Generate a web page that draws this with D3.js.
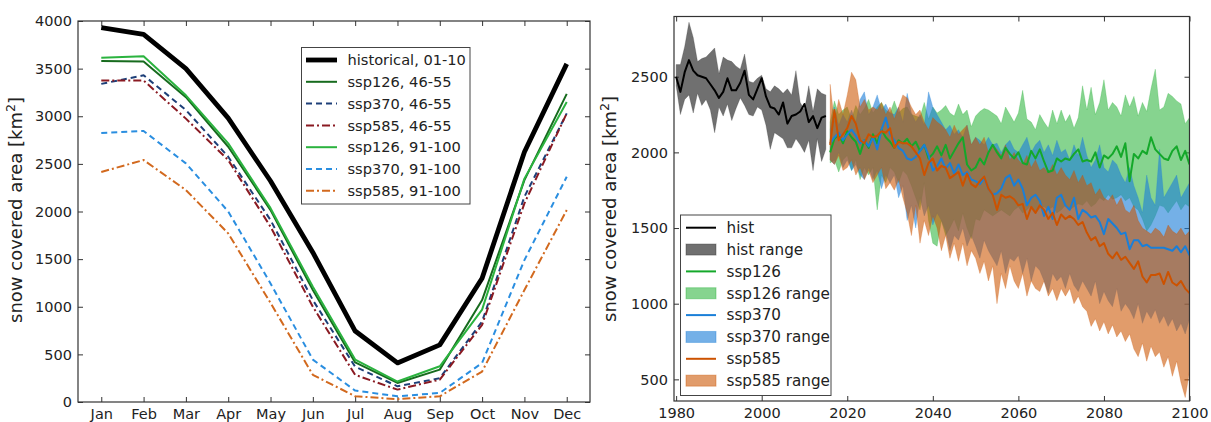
<!DOCTYPE html>
<html><head><meta charset="utf-8">
<script src="https://cdn.jsdelivr.net/npm/d3@7"></script>
<style>
body{margin:0;background:#fff}
text{font-family:"DejaVu Sans",sans-serif;fill:#222}
</style>
</head><body>
<svg id="c" width="1211" height="422"></svg>
<script>
// ---------- left panel data ----------
const months = ["Jan","Feb","Mar","Apr","May","Jun","Jul","Aug","Sep","Oct","Nov","Dec"];
const leftTicks = [0,500,1000,1500,2000,2500,3000,3500,4000];
const histClim   = [3930,3860,3500,2980,2320,1570,745,410,600,1300,2625,3550];
const s126_4655  = [3580,3575,3200,2680,2015,1175,415,200,340,1070,2330,3235];
const s370_4655  = [3340,3430,3065,2575,1910,1070,370,165,250,845,2155,3030];
const s585_4655  = [3375,3375,2975,2540,1840,1000,285,130,235,810,2085,3030];
const s126_91100 = [3615,3630,3220,2715,2035,1210,445,215,375,970,2345,3150];
const s370_91100 = [2825,2845,2505,2000,1245,445,120,60,95,410,1490,2365];
const s585_91100 = [2415,2540,2225,1770,1040,285,60,30,60,320,1175,2015];
const leftNames = ["historical, 01-10","ssp126, 46-55","ssp370, 46-55","ssp585, 46-55","ssp126, 91-100","ssp370, 91-100","ssp585, 91-100"];

// ---------- right panel data ----------
const rightXTicks = [1980,2000,2020,2040,2060,2080,2100];
const rightYTicks = [500,1000,1500,2000,2500];
const histYears = d3.range(1980, 2016);
const histMean = [2500,2400,2530,2610,2540,2510,2500,2490,2450,2410,2360,2400,2490,2410,2410,2460,2540,2380,2350,2420,2490,2370,2300,2290,2250,2330,2190,2240,2250,2270,2320,2200,2240,2160,2230,2240];
const histMax  = [2580,2580,2700,2860,2760,2600,2620,2630,2660,2690,2520,2630,2610,2600,2570,2550,2650,2470,2460,2490,2510,2420,2400,2440,2420,2390,2420,2380,2540,2330,2280,2440,2270,2420,2390,2380];
const histMin  = [2440,2250,2350,2380,2260,2390,2310,2350,2280,2130,2300,2240,2320,2210,2290,2360,2310,2250,2240,2300,2280,2180,2020,2130,2110,2090,2030,2030,2090,2050,2000,2080,1880,2090,1940,2020];
const sspYears = d3.range(2016, 2101);
const ssp126Mean = [2000,2090,2120,2060,2140, 2100,2070,1990,2080,2030, 2120,2060,2150,2100,2070, 2030,2080,2060,2090,2040,
  2070,2010,2050,1960,1990, 2040,1980,2050,1960,2010, 2060,2100,1920,1880,1900, 1960,1920,2000,2050,2000,
  1960,2030,1990,1960,2000, 1930,1920,2010,1960,2020, 1940,1870,1880,1960,1940, 1960,1950,1990,2020,1940,
  1950,1940,2000,1900,1980, 1960,1990,2040,1970,2060, 1810,1990,1960,2010,1990, 2100,2020,1990,1960,1950,
  2010,2040,1950,2010,1920];
const ssp126Max = [2200,2340,2250,2280,2300, 2220,2310,2250,2290,2350, 2260,2300,2330,2280,2260, 2340,2260,2290,2300,2250,
  2240,2230,2330,2220,2300, 2260,2280,2310,2260,2240, 2320,2250,2280,2170,2240, 2270,2290,2280,2260,2240,
  2190,2300,2250,2200,2260, 2410,2220,2200,2150,2250, 2200,2160,2280,2190,2280, 2200,2250,2160,2230,2440,
  2280,2430,2250,2330,2480, 2280,2330,2300,2240,2380, 2300,2370,2240,2330,2270, 2420,2550,2280,2300,2390,
  2370,2340,2320,2190,2230];
const ssp126Min = [1930,1950,1870,1950,1980, 1880,1950,1820,1900,1850, 1900,1620,1850,1800,1900, 1870,1800,1880,1850,1780,
  1700,1620,1800,1550,1400, 1380,1550,1450,1500,1560, 1480,1600,1500,1430,1560, 1550,1620,1600,1580,1600,
  1620,1600,1580,1620,1640, 1600,1620,1650,1600,1630, 1640,1620,1640,1600,1620, 1650,1620,1640,1660,1650,
  1680,1640,1660,1700,1680, 1720,1690,1700,1720,1680, 1700,1640,1620,1560,1480, 1520,1580,1650,1640,1600,
  1640,1680,1620,1660,1640];
const ssp370Mean = [2060,2100,2130,2080,2120, 2150,2110,2060,2080,2040, 2100,2020,2150,2230,2120, 2080,2030,2010,1960,1950,
  1970,2010,2050,1980,1880, 1910,1960,1890,1930,1860, 1920,1850,1870,1820,1810, 1790,1830,1760,1720,1730,
  1760,1830,1850,1780,1820, 1760,1650,1700,1720,1680, 1580,1640,1560,1700,1720, 1650,1620,1700,1560,1620,
  1600,1570,1580,1540,1460, 1560,1530,1500,1460,1470, 1360,1420,1420,1380,1390, 1370,1370,1370,1370,1360,
  1350,1380,1340,1380,1320];
const ssp370Max = [2150,2300,2180,2250,2200, 2280,2200,2350,2400,2250, 2300,2380,2280,2320,2260, 2250,2300,2200,2390,2260,
  2200,2250,2180,2400,2300, 2250,2200,2150,2180,2120, 2150,2100,2180,2050,2100, 2080,2050,2100,2050,2060,
  2000,2050,2080,2020,2000, 2050,2100,2000,2050,2080, 2000,2050,1980,2080,2000, 2020,1950,2050,1980,2100,
  1980,1900,1950,2050,1900, 1870,1950,1920,1850,1800, 1900,1780,1700,1600,1850, 1700,1650,2020,1700,1750,
  1800,1850,1700,1750,1800];
const ssp370Min = [1950,1920,2000,1900,1950, 1880,1920,1850,1820,1900, 1820,1880,1760,1850,1800, 1850,1700,1780,1550,1650,
  1500,1700,1580,1650,1520, 1600,1550,1480,1350,1450, 1420,1500,1380,1450,1380, 1300,1420,1350,1300,1250,
  1350,1200,1300,1280,1320, 1200,1300,1150,1250,1220, 1150,1070,1200,1150,1180, 1100,1200,1120,1080,1150,
  1100,1050,1150,1000,1080, 1020,980,1100,950,1000, 960,900,1000,870,950, 900,960,870,920,850,
  900,820,870,800,900];
const ssp585Mean = [2050,2280,2080,2120,2160, 2240,2190,2080,2060,2120, 2100,2110,2140,2130,2160, 2030,2070,2060,2060,2040,
  2000,1960,1850,1930,1960, 1880,1910,1900,1830,1850, 1870,1780,1860,1790,1770, 1810,1840,1760,1720,1620,
  1720,1700,1710,1690,1650, 1660,1560,1640,1600,1650, 1620,1560,1600,1520,1590, 1560,1580,1560,1520,1540,
  1470,1420,1440,1380,1400, 1330,1300,1340,1290,1310, 1270,1230,1280,1180,1140, 1190,1190,1200,1130,1210,
  1140,1120,1150,1100,1070];
const ssp585Max = [2450,2200,2350,2250,2380, 2530,2480,2300,2350,2280, 2300,2280,2330,2250,2300, 2220,2300,2380,2360,2300,
  2250,2280,2200,2150,2230, 2200,2180,2150,2100,2180, 2120,2150,2180,2050,2100, 2050,2100,2000,2050,2020,
  1980,2050,1950,2000,1950, 1920,1980,1900,1950,1880, 1900,1860,1920,1850,1900, 1850,1820,1880,1800,1850,
  1780,1800,1720,1760,1700, 1680,1720,1650,1700,1620, 1600,1650,1550,1500,1480, 1460,1500,1480,1440,1520,
  1480,1460,1500,1450,1480];
const ssp585Min = [1950,1920,1980,1880,1900, 1950,1850,1900,1820,1880, 1800,1850,1900,1760,1800, 1750,1820,1700,1600,1450,
  1650,1400,1550,1450,1580, 1500,1350,1450,1300,1400, 1280,1400,1250,1350,1300, 1200,1280,1150,1250,1000,
  1200,1100,1250,1150,1100, 1200,1050,1150,1100,1080, 1150,1050,1100,1020,1100, 1050,1100,1000,1050,980,
  950,850,900,820,880, 800,860,780,820,750, 800,700,650,740,620, 720,650,680,580,650,
  520,620,480,380,550];
const rightNames = ["hist","hist range","ssp126","ssp126 range","ssp370","ssp370 range","ssp585","ssp585 range"];

const svg = d3.select("#c");
const axisCol = "#333";

function yLabel(x, y) {
  const t = svg.append("text").attr("transform", `translate(${x},${y}) rotate(-90)`)
    .attr("text-anchor", "middle").attr("font-size", 18).attr("fill", "#222");
  t.append("tspan").text("snow covered area [km");
  t.append("tspan").attr("font-size", 12.5).attr("dy", -7).text("2");
  t.append("tspan").attr("dy", 7).text("]");
}
function styleAxis(g) {
  g.select(".domain").remove();
  g.selectAll(".tick line").attr("stroke", axisCol).attr("stroke-width", 1);
  g.selectAll(".tick text").attr("font-size", 14.5).attr("fill", "#222");
}

// ---------- LEFT PANEL ----------
const L = {x0: 78, x1: 590, y0: 21, y1: 402};
const xL = d3.scalePoint().domain(months).range([L.x0, L.x1]).padding(0.55);
const yL = d3.scaleLinear().domain([0, 4000]).range([L.y1, L.y0]);

svg.append("g").attr("transform", `translate(${L.x0},0)`)
  .call(d3.axisLeft(yL).tickValues(leftTicks).tickSize(-5).tickPadding(6).tickFormat(d3.format("d"))).call(styleAxis);
svg.append("g").attr("transform", `translate(${L.x1},0)`)
  .call(d3.axisRight(yL).tickValues(leftTicks).tickSize(-5).tickFormat("")).call(styleAxis);
svg.append("g").attr("transform", `translate(0,${L.y1})`)
  .call(d3.axisBottom(xL).tickSize(-5).tickPadding(7)).call(styleAxis);
svg.append("g").attr("transform", `translate(0,${L.y0})`)
  .call(d3.axisTop(xL).tickSize(-5).tickFormat("")).call(styleAxis);

const leftSeries = [
  {name: leftNames[0], v: histClim,   c: "#000000", w: 4.8, d: null},
  {name: leftNames[1], v: s126_4655,  c: "#176b1e", w: 2,   d: null},
  {name: leftNames[2], v: s370_4655,  c: "#1d3f78", w: 2,   d: "6,4"},
  {name: leftNames[3], v: s585_4655,  c: "#8a1a22", w: 2,   d: "8,3,2,3"},
  {name: leftNames[4], v: s126_91100, c: "#2bb33f", w: 2,   d: null},
  {name: leftNames[5], v: s370_91100, c: "#2a8ee0", w: 2,   d: "6,4"},
  {name: leftNames[6], v: s585_91100, c: "#d2691e", w: 2,   d: "8,3,2,3"}
];
const lineL = d3.line().x((d, i) => xL(months[i])).y(d => yL(d));
leftSeries.forEach(s => {
  svg.append("path").attr("d", lineL(s.v)).attr("fill", "none").attr("stroke", s.c)
    .attr("stroke-width", s.w).attr("stroke-dasharray", s.d).attr("stroke-linejoin", "round");
});
svg.append("rect").attr("x", L.x0).attr("y", L.y0).attr("width", L.x1 - L.x0).attr("height", L.y1 - L.y0)
  .attr("fill", "none").attr("stroke", axisCol).attr("stroke-width", 1.2);
yLabel(22, 210);

// left legend
const lgL = svg.append("g");
lgL.append("rect").attr("x", 301.5).attr("y", 47.5).attr("width", 168.5).attr("height", 156.5)
  .attr("fill", "#fff").attr("stroke", "#444").attr("stroke-width", 1);
leftSeries.forEach((s, i) => {
  const y = 60 + i * 21.8;
  lgL.append("line").attr("x1", 306).attr("x2", 337).attr("y1", y).attr("y2", y)
    .attr("stroke", s.c).attr("stroke-width", s.w).attr("stroke-dasharray", s.d);
  lgL.append("text").attr("x", 347.5).attr("y", y).attr("dy", "0.35em").attr("font-size", 14.6).text(s.name);
});

// ---------- RIGHT PANEL ----------
const R = {x0: 674, x1: 1189.5, y0: 16.5, y1: 401};
const xR = d3.scaleLinear().domain([1979.5, 2100]).range([R.x0, R.x1]);
const yR = d3.scaleLinear().domain([357, 2898]).range([R.y1, R.y0]);

svg.append("g").attr("transform", `translate(${R.x0},0)`)
  .call(d3.axisLeft(yR).tickValues(rightYTicks).tickSize(-5).tickPadding(6).tickFormat(d3.format("d"))).call(styleAxis);
svg.append("g").attr("transform", `translate(${R.x1},0)`)
  .call(d3.axisRight(yR).tickValues(rightYTicks).tickSize(-5).tickFormat("")).call(styleAxis);
svg.append("g").attr("transform", `translate(0,${R.y1})`)
  .call(d3.axisBottom(xR).tickValues(rightXTicks).tickSize(-5).tickPadding(7).tickFormat(d3.format("d"))).call(styleAxis);
svg.append("g").attr("transform", `translate(0,${R.y0})`)
  .call(d3.axisTop(xR).tickValues(rightXTicks).tickSize(-5).tickFormat("")).call(styleAxis);

svg.append("clipPath").attr("id", "clipR").append("rect")
  .attr("x", R.x0).attr("y", R.y0).attr("width", R.x1 - R.x0).attr("height", R.y1 - R.y0);
const plotR = svg.append("g").attr("clip-path", "url(#clipR)");

const rightSeries = [
  {years: histYears, mean: histMean,   lo: histMin,   hi: histMax,   lc: "#000000", fc: "#333333", fo: 0.7},
  {years: sspYears,  mean: ssp126Mean, lo: ssp126Min, hi: ssp126Max, lc: "#14a82a", fc: "#22b033", fo: 0.55},
  {years: sspYears,  mean: ssp370Mean, lo: ssp370Min, hi: ssp370Max, lc: "#1a7fd8", fc: "#1f80d8", fo: 0.62},
  {years: sspYears,  mean: ssp585Mean, lo: ssp585Min, hi: ssp585Max, lc: "#cc5200", fc: "#cc5500", fo: 0.58}
];
rightSeries.forEach(s => {
  const area = d3.area().x((d, i) => xR(s.years[i])).y0((d, i) => yR(s.lo[i])).y1(d => yR(d));
  plotR.append("path").attr("d", area(s.hi)).attr("fill", s.fc).attr("fill-opacity", s.fo)
    .attr("stroke", s.fc).attr("stroke-opacity", 0.3).attr("stroke-width", 0.8);
});
rightSeries.forEach(s => {
  const line = d3.line().x((d, i) => xR(s.years[i])).y(d => yR(d));
  plotR.append("path").attr("d", line(s.mean)).attr("fill", "none").attr("stroke", s.lc)
    .attr("stroke-width", 2).attr("stroke-linejoin", "round");
});
svg.append("rect").attr("x", R.x0).attr("y", R.y0).attr("width", R.x1 - R.x0).attr("height", R.y1 - R.y0)
  .attr("fill", "none").attr("stroke", axisCol).attr("stroke-width", 1.2);
yLabel(616, 209);

// right legend
const lgR = svg.append("g");
lgR.append("rect").attr("x", 680.5).attr("y", 215).attr("width", 150.5).attr("height", 180.5)
  .attr("fill", "#fff").attr("fill-opacity", 0.85).attr("stroke", "#444").attr("stroke-width", 1);
rightNames.forEach((n, i) => {
  const y = 227.7 + i * 21.85;
  const s = rightSeries[Math.floor(i / 2)];
  if (i % 2 === 0) {
    lgR.append("line").attr("x1", 686).attr("x2", 716).attr("y1", y).attr("y2", y)
      .attr("stroke", s.lc).attr("stroke-width", 2);
  } else {
    lgR.append("rect").attr("x", 686).attr("y", y - 5.5).attr("width", 30).attr("height", 11)
      .attr("fill", s.fc).attr("fill-opacity", s.fo).attr("stroke", s.fc).attr("stroke-opacity", 0.4);
  }
  lgR.append("text").attr("x", 726.5).attr("y", y).attr("dy", "0.35em").attr("font-size", 15.2).text(n);
});
</script>
</body></html>
